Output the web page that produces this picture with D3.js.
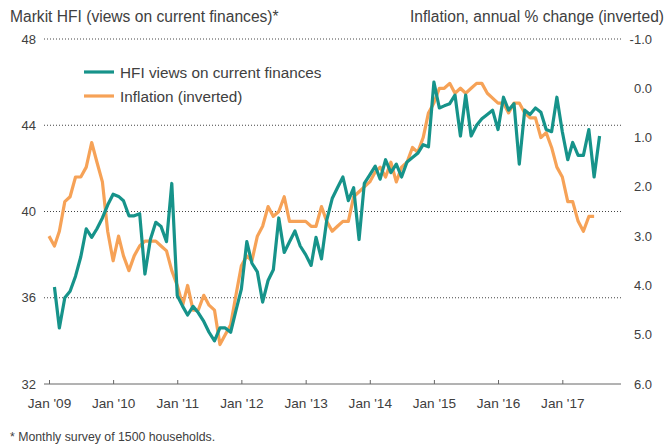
<!DOCTYPE html>
<meta charset="utf-8">
<body style="margin:0;background:#fff">
<svg id="chart" width="670" height="446"></svg>
<script src="https://d3js.org/d3.v7.min.js"></script>
<style>
  text { font-family: "Liberation Sans", Arial, sans-serif; fill: #404040; }
</style>
<script>

// Markit HFI, views on current finances (monthly, Feb 2009 - Aug 2017)
var hfiStart = new Date(2009, 1, 1)
var hfiValues = [
  36.5, 34.6, 36.0, 36.3, 37.0, 37.9, 39.2, 38.8, 39.2, 39.7, 40.3,
  40.8, 40.7, 40.5, 39.8, 39.8, 39.9, 37.1, 38.7, 39.5, 39.3, 38.6, 41.3,
  36.1, 35.6, 35.2, 35.6, 35.3, 34.9, 34.4, 34.0, 34.6, 34.6, 34.4, 35.4,
  36.4, 38.6, 37.6, 37.2, 35.8, 36.8, 37.3, 39.7, 38.1, 38.6, 39.1, 38.4,
  38.0, 37.5, 38.8, 37.8, 39.6, 40.6, 41.1, 41.6, 40.5, 41.1, 38.7, 41.3,
  41.7, 42.1, 41.5, 42.4, 41.8, 42.2, 41.6, 42.3, 42.5, 42.7, 43.1, 43.0,
  46.0, 44.8, 44.9, 45.0, 45.4, 43.5, 45.4, 43.5, 44.0, 44.3, 44.5, 44.7,
  43.8, 45.3, 44.7, 45.0, 42.2, 44.7, 44.5, 44.8, 44.6, 43.8, 43.7, 45.3,
  43.7, 42.4, 43.2, 42.6, 42.6, 43.8, 41.6, 43.5
]

// CPI inflation, annual % change (monthly, Jan 2009 - Jul 2017), plotted inverted
var cpiStart = new Date(2009, 0, 1)
var cpiValues = [
  3.0, 3.2, 2.9, 2.3, 2.2, 1.8, 1.8, 1.6, 1.1, 1.5, 1.9, 2.9,
  3.5, 3.0, 3.4, 3.7, 3.4, 3.2, 3.1, 3.1, 3.1, 3.2, 3.3, 3.7,
  4.0, 4.4, 4.0, 4.5, 4.5, 4.2, 4.4, 4.5, 5.2, 5.0, 4.8, 4.2,
  3.6, 3.4, 3.5, 3.0, 2.8, 2.4, 2.6, 2.5, 2.2, 2.7, 2.7, 2.7,
  2.7, 2.8, 2.8, 2.4, 2.7, 2.9, 2.8, 2.7, 2.7, 2.2, 2.1, 2.0,
  1.9, 1.7, 1.6, 1.8, 1.5, 1.9, 1.6, 1.5, 1.2, 1.3, 1.0, 0.5,
  0.3, 0.0, 0.0, -0.1, 0.1, 0.0, 0.1, 0.0, -0.1, -0.1, 0.1, 0.2,
  0.3, 0.3, 0.5, 0.3, 0.3, 0.5, 0.6, 0.6, 1.0, 0.9, 1.2, 1.6,
  1.8, 2.3, 2.3, 2.7, 2.9, 2.6, 2.6
]

var leftTicks = [32, 36, 40, 44, 48]
var rightTicks = [-1, 0, 1, 2, 3, 4, 5, 6]
var yearTicks = ['2009', '2010', '2011', '2012', '2013', '2014', '2015', '2016', '2017']

var teal = '#16938a'
var orange = '#f6a257'

function monthly(start, values) {
  return values.map(function (v, i) {
    return { date: d3.timeMonth.offset(start, i), value: v }
  })
}
var hfi = monthly(hfiStart, hfiValues)
var cpi = monthly(cpiStart, cpiValues)

// plot area (avoid window.top / window.left names)
var plotL = 49, plotR = 621, plotT = 39, plotB = 384

var svg = d3.select('#chart')

var x = d3.scaleTime()
  .domain([new Date(2009, 0, 1), new Date(2017, 11, 1)])
  .range([plotL, plotR])
var yL = d3.scaleLinear().domain([32, 48]).range([plotB, plotT])
var yR = d3.scaleLinear().domain([6, -1]).range([plotB, plotT])

// titles
svg.append('text').attr('x', 10).attr('y', 22)
  .attr('font-size', 15.6).text('Markit HFI (views on current finances)*')
svg.append('text').attr('x', 664).attr('y', 22).attr('text-anchor', 'end')
  .attr('font-size', 15.6).text('Inflation, annual % change (inverted)')

// gridlines
svg.append('g').selectAll('line')
  .data(leftTicks.filter(function (d) { return d > 32 }))
  .enter().append('line')
  .attr('x1', 44).attr('x2', plotR)
  .attr('y1', function (d) { return yL(d) }).attr('y2', function (d) { return yL(d) })
  .attr('stroke', '#444').attr('stroke-width', 1).attr('stroke-dasharray', '1,2')

// left axis labels
svg.append('g').selectAll('text')
  .data(leftTicks).enter().append('text')
  .attr('x', 36).attr('y', function (d) { return yL(d) + 4.5 })
  .attr('text-anchor', 'end').attr('font-size', 13)
  .text(function (d) { return d })

// right axis labels (plain hyphen for the negative value, as in the source)
svg.append('g').selectAll('text')
  .data(rightTicks).enter().append('text')
  .attr('x', 652).attr('y', function (d) { return yR(d) + 4.5 })
  .attr('text-anchor', 'end').attr('font-size', 13)
  .text(function (d) { return d.toFixed(1) })

// x axis
var xAxis = d3.axisBottom(x)
  .tickValues(yearTicks.map(function (y) { return new Date(+y, 0, 1) }))
  .tickSize(-4)
  .tickPadding(14)
  .tickFormat(function (d) { return "Jan '" + d3.timeFormat('%y')(d) })
var gx = svg.append('g').attr('transform', 'translate(0,' + plotB + ')').call(xAxis)
gx.select('.domain').attr('d', 'M' + (plotL - 5) + ',0H' + plotR).attr('stroke', '#666')
gx.selectAll('.tick line').attr('stroke', '#666')
gx.selectAll('.tick text').attr('font-size', 13.6)
  .style('font-family', '"Liberation Sans", Arial, sans-serif').attr('fill', '#404040')

// lines
var hfiLine = d3.line()
  .x(function (d) { return x(d.date) })
  .y(function (d) { return yL(d.value) })
var cpiLine = d3.line()
  .x(function (d) { return x(d.date) })
  .y(function (d) { return yR(d.value) })

svg.append('path').datum(cpi).attr('d', cpiLine)
  .attr('fill', 'none').attr('stroke', orange).attr('stroke-width', 3.2)
  .attr('stroke-linejoin', 'round')
svg.append('path').datum(hfi).attr('d', hfiLine)
  .attr('fill', 'none').attr('stroke', teal).attr('stroke-width', 3.2)
  .attr('stroke-linejoin', 'round')

// legend
var legend = [
  { label: 'HFI views on current finances', color: teal },
  { label: 'Inflation (inverted)', color: orange }
]
var lg = svg.append('g').selectAll('g').data(legend).enter().append('g')
  .attr('transform', function (d, i) { return 'translate(84,' + (72 + i * 24) + ')' })
lg.append('line').attr('x1', 0).attr('x2', 30)
  .attr('stroke', function (d) { return d.color }).attr('stroke-width', 3.2)
lg.append('text').attr('x', 36).attr('y', 5.5).attr('font-size', 15.3)
  .text(function (d) { return d.label })

// footnote
svg.append('text').attr('x', 10).attr('y', 441).attr('font-size', 12.3)
  .text('* Monthly survey of 1500 households.')

</script>
